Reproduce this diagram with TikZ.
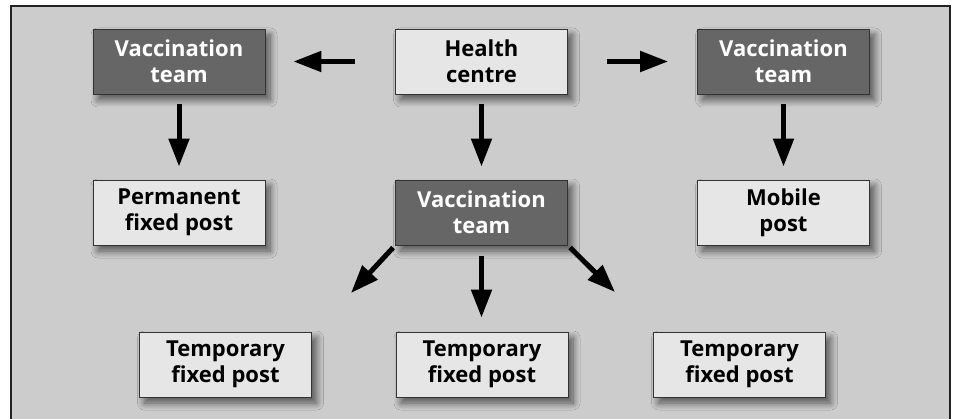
\documentclass[tikz,border=0pt]{standalone}
\usepackage{fontspec}
\setmainfont{Open Sans}
\usetikzlibrary{arrows.meta,shadows.blur}
\definecolor{bg}{HTML}{CCCCCC}
\definecolor{darkbox}{HTML}{666666}
\definecolor{lightbox}{HTML}{E6E6E6}
\definecolor{framec}{HTML}{222222}
\begin{document}
\begin{tikzpicture}[x=1pt,y=-1pt,
  box/.style={draw=black!80, line width=0.8pt, minimum width=172pt, minimum height=65pt,
    inner sep=0pt, align=center, font=\fontsize{22}{26}\selectfont\bfseries,
    blur shadow={shadow xshift=5pt,shadow yshift=-6pt,shadow blur radius=7pt,
      shadow blur steps=10,shadow opacity=60}},
  darkb/.style={box, fill=darkbox, text=white},
  lightb/.style={box, fill=lightbox, text=black},
  arr/.style={line width=5pt, -{Triangle[length=28pt,width=20pt]}}
]
\useasboundingbox (0,0) rectangle (955,419);
\fill[white] (0,0) rectangle (955,419);
\fill[bg] (11,6) rectangle (950,419);
\draw[framec, line width=1.2pt] (11,419) -- (11,6) -- (950,6) -- (950,419);

\node[darkb]  (vtl) at (179,61.5)   {Vaccination\\team};
\node[lightb] (hc)  at (481.5,61.5) {Health\\centre};
\node[darkb]  (vtr) at (783.5,61.5) {Vaccination\\team};
\node[lightb] (pfp) at (179,212.5)  {Permanent\\fixed post};
\node[darkb]  (vtm) at (481.5,212.5){Vaccination\\team};
\node[lightb] (mob) at (783.5,212.5){Mobile\\post};
\node[lightb] (tl)  at (225.5,364.5){Temporary\\fixed post};
\node[lightb] (tm)  at (482,364.5)  {Temporary\\fixed post};
\node[lightb] (tr)  at (739.5,364.5){Temporary\\fixed post};

\coordinate (dl) at (351,293);
\coordinate (dr) at (615,292);

\draw[arr, shorten <=40pt, shorten >=28pt] (hc.west) -- (vtl.east);
\draw[arr, shorten <=39pt, shorten >=29pt] (hc.east) -- (vtr.west);
\draw[arr, shorten <=10pt, shorten >=13pt] (vtl.south) -- (pfp.north);
\draw[arr, shorten <=10pt, shorten >=13pt] (hc.south) -- (vtm.north);
\draw[arr, shorten <=10pt, shorten >=13pt] (vtr.south) -- (mob.north);
\draw[arr, shorten <=11pt, shorten >=14pt] (vtm.south) -- (vtm.south |- tm.north);
\draw[arr, shorten <=3pt] (vtm.south west) -- (dl);
\draw[arr, shorten <=3pt] (vtm.south east) -- (dr);
\end{tikzpicture}
\end{document}
